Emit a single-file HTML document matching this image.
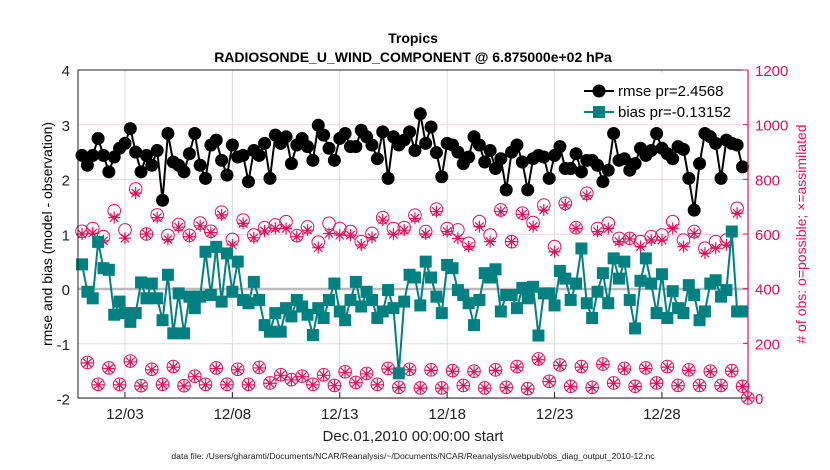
<!DOCTYPE html>
<html><head><meta charset="utf-8"><style>
body{margin:0;background:#fff;}
svg{display:block;font-family:"Liberation Sans",Arial,sans-serif;}
</style></head><body>
<svg id="chart" width="830" height="470" viewBox="0 0 830 470">
<rect x="0" y="0" width="830" height="470" fill="#fff"/>
<g id="grid"></g>
<g id="marks"></g>
<g id="axes"></g>
<text x="413" y="43" text-anchor="middle" font-size="14" font-weight="bold">Tropics</text>
<text x="413" y="62" text-anchor="middle" font-size="14" font-weight="bold">RADIOSONDE_U_WIND_COMPONENT @ 6.875000e+02 hPa</text>
<text transform="translate(52,234) rotate(-90)" text-anchor="middle" font-size="14">rmse and bias (model - observation)</text>
<text transform="translate(806,234) rotate(-90)" text-anchor="middle" font-size="14" fill="#e0105c"># of obs: o=possible; ×=assimilated</text>
<text x="413" y="441" text-anchor="middle" font-size="15" fill="#222">Dec.01,2010 00:00:00 start</text>
<text x="413" y="459" text-anchor="middle" font-size="8.6" fill="#222">data file: /Users/gharamti/Documents/NCAR/Reanalysis/~/Documents/NCAR/Reanalysis/webpub/obs_diag_output_2010-12.nc</text>
<g>
<rect x="580" y="73" width="167" height="50" fill="#fff"/>
<g>
<line x1="584" y1="91" x2="614" y2="91" stroke="#000" stroke-width="2"/>
<circle cx="599" cy="91" r="6.5" fill="#000"/>
<text x="618" y="96" font-size="15">rmse pr=2.4568</text></g>
<g>
<line x1="584" y1="112" x2="614" y2="112" stroke="#008080" stroke-width="2"/>
<rect x="593" y="106" width="12" height="12" fill="#008080"/>
<text x="618" y="117" font-size="15">bias pr=-0.13152</text></g>
</g>
</svg>
<script>
const rmse=[2.44,2.26,2.44,2.75,2.44,2.14,2.41,2.57,2.66,2.93,2.5,2.14,2.44,2.26,2.53,1.62,2.84,2.32,2.26,2.14,2.47,2.84,2.26,2.02,2.63,2.72,2.35,2.08,2.63,2.41,2.44,1.96,
2.53,2.44,2.66,2.02,2.81,2.66,2.78,2.29,2.63,2.75,2.6,2.35,2.99,2.81,2.57,2.35,2.75,2.84,2.6,2.6,2.9,2.78,2.63,2.38,2.87,2.02,2.78,2.63,2.72,2.87,2.53,
3.2,2.66,2.96,2.49,2.05,2.66,2.63,2.5,2.29,2.41,2.78,2.63,2.32,2.53,2.2,2.38,1.81,2.5,2.63,2.32,1.81,2.38,2.44,2.41,2.02,2.44,2.6,2.2,2.2,2.47,
2.14,2.35,2.35,2.26,1.96,2.17,2.84,2.35,2.38,2.17,2.29,2.57,2.44,2.53,2.84,2.57,2.47,2.38,2.6,2.55,2.02,1.44,2.29,2.84,2.78,2.66,2.02,2.72,2.66,2.63,2.23];
const bias=[0.45,-0.05,-0.17,0.86,0.38,0.35,-0.47,-0.23,-0.44,-0.6,-0.44,0.12,-0.17,0.1,-0.17,-0.57,0.26,-0.81,-0.08,-0.81,-0.14,-0.35,-0.14,0.68,-0.11,0.77,-0.23,0.65,-0.05,0.5,-0.2,-0.26,
0.13,-0.2,-0.66,-0.78,-0.44,-0.78,-0.35,-0.5,-0.2,-0.32,-0.47,-0.84,-0.35,-0.53,-0.2,0.1,-0.41,-0.57,-0.2,0.13,-0.32,-0.05,-0.2,-0.53,-0.41,-0.02,-0.35,-1.54,-0.23,0.26,0.21,
-0.3,0.5,0.21,-0.14,-0.44,0.44,0.38,-0.02,-0.11,-0.26,-0.66,-0.2,0.29,0.21,0.36,-0.41,-0.11,-0.11,-0.35,0.02,-0.17,0.04,-0.85,-0.08,-0.08,-0.3,0.33,0.19,-0.2,0.1,
0.74,-0.26,-0.53,-0.05,0.29,-0.26,0.56,0.19,0.5,-0.2,-0.72,0.15,0.56,0.1,-0.44,0.27,-0.53,-0.04,-0.35,-0.44,0.07,-0.11,-0.57,-0.41,0.1,0.16,-0.14,-0.02,1.05,-0.41,-0.41];
const possible=[610,130,620,50,590,110,685,50,615,135,765,45,600,105,670,50,595,115,635,45,595,80,640,50,610,110,680,50,580,105,651,50,596,112,623,55,633,85,645,67,594,80,626,50,570,85,639,46,620,96,609,57,572,90,602,50,660,108,620,39,623,105,669,37,609,103,691,37,620,100,615,46,566,98,645,37,596,103,688,39,572,115,676,34,642,143,706,61,554,121,712,43,623,115,749,39,620,124,639,55,584,108,584,43,572,110,590,55,596,115,645,46,578,103,609,46,548,98,572,46,578,100,694,43,0];
const assimilated=[600,128,603,48,575,108,660,48,585,132,750,44,600,103,660,48,580,113,625,44,590,78,630,48,605,108,670,48,560,103,639,48,586,110,611,54,620,83,620,66,590,78,614,48,550,83,602,45,596,94,596,56,560,88,587,48,651,106,599,38,614,103,657,36,600,101,682,36,609,98,584,45,554,96,627,36,572,101,682,38,572,113,672,33,627,140,688,60,535,119,706,42,620,113,740,38,609,122,620,54,572,106,582,42,554,108,578,54,578,113,620,45,554,101,602,45,530,96,548,45,560,98,676,42,0];
const xTickDays=[2,7,12,17,22,27];
const xTickLabels=["12/03","12/08","12/13","12/18","12/23","12/28"];
const yTicks=[-2,-1,0,1,2,3,4];
const rTicks=[0,200,400,600,800,1000,1200];

const L=78,R=748,T=70,B=398;
const X=d=>82+d*21.48;
const Y=v=>289-v*54.75;
const RY=c=>B-c*(B-T)/1200;
const NS="http://www.w3.org/2000/svg";
function mk(p,tag,at){const e=document.createElementNS(NS,tag);for(const k in at)e.setAttribute(k,at[k]);p.appendChild(e);return e;}
const grid=document.getElementById('grid'),marks=document.getElementById('marks'),axes=document.getElementById('axes');
const CR="#e0105c";

yTicks.forEach(v=>{const g=mk(grid,'line',{x1:L,x2:R,y1:Y(v),y2:Y(v),stroke:'#f2d5df','stroke-width':1});

});
xTickDays.forEach(d=>{const g=mk(grid,'line',{x1:X(d),x2:X(d),y1:T,y2:B,stroke:'#ddd','stroke-width':1});

});
const z=mk(grid,'line',{x1:L,x2:R,y1:Y(0),y2:Y(0),stroke:'#bbb','stroke-width':2.5});



possible.forEach((c,i)=>{const x=X(i*0.25),y=RY(c);
const e=mk(marks,'circle',{cx:x,cy:y,r:6.3,fill:'none',stroke:CR,'stroke-width':1});

});
assimilated.forEach((c,i)=>{const x=X(i*0.25),y=RY(c),s=6;
const d=`M${x-s},${y}H${x+s}M${x},${y-s}V${y+s}M${x-s*0.7},${y-s*0.7}L${x+s*0.7},${y+s*0.7}M${x-s*0.7},${y+s*0.7}L${x+s*0.7},${y-s*0.7}`;
const e=mk(marks,'path',{d:d,stroke:CR,'stroke-width':1.2,fill:'none'});

});

const bp=mk(marks,'polyline',{points:bias.map((v,i)=>X(i*0.25)+','+Y(v)).join(' '),fill:'none',stroke:'#008080','stroke-width':2});


bias.forEach((v,i)=>{const e=mk(marks,'rect',{x:X(i*0.25)-6,y:Y(v)-6,width:12,height:12,fill:'#008080'});

});
const rp=mk(marks,'polyline',{points:rmse.map((v,i)=>X(i*0.25)+','+Y(v)).join(' '),fill:'none',stroke:'#000','stroke-width':2});


rmse.forEach((v,i)=>{const e=mk(marks,'circle',{cx:X(i*0.25),cy:Y(v),r:6.5,fill:'#000'});

});

const box=mk(axes,'path',{d:`M${R},${T}H${L}V${B}H${R}`,fill:'none',stroke:'#222','stroke-width':1});


const ra=mk(axes,'line',{x1:R,x2:R,y1:T,y2:B,stroke:CR,'stroke-width':1.2});


yTicks.forEach(v=>{const t=mk(axes,'text',{x:L-8,y:Y(v)+6,'text-anchor':'end','font-size':15,fill:'#222'});t.textContent=v;

});
rTicks.forEach(c=>{const t=mk(axes,'text',{x:R+7,y:RY(c)+6,'font-size':15,fill:CR});t.textContent=c;


mk(axes,'line',{x1:R-5,x2:R,y1:RY(c),y2:RY(c),stroke:CR});});
xTickDays.forEach((d,k)=>{mk(axes,'line',{x1:X(d),x2:X(d),y1:B,y2:B-6,stroke:'#222'});
const t=mk(axes,'text',{x:X(d),y:B+21,'text-anchor':'middle','font-size':15,fill:'#222'});t.textContent=xTickLabels[k];

});
</script>
</body></html>
